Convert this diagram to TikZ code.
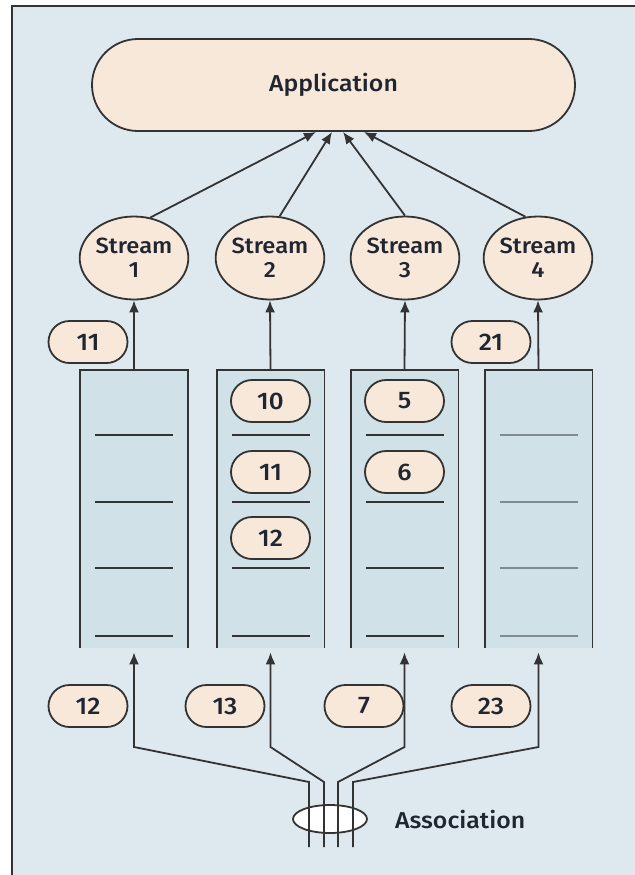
\documentclass[tikz,border=0pt]{standalone}
\usepackage{fontspec}
\setmainfont{Fira Sans}[UprightFont={* Medium}, FakeStretch=1.08]
\usetikzlibrary{shapes.geometric,arrows.meta}
\definecolor{bgblue}{HTML}{DDE9EE}
\definecolor{qblue}{HTML}{D0E2E8}
\definecolor{peach}{HTML}{F8E8DA}
\definecolor{linegray}{HTML}{333333}
\definecolor{slotgray}{HTML}{7F8B91}
\definecolor{txt}{HTML}{1F2531}
\begin{document}
\begin{tikzpicture}[x=0.5pt,y=-0.5pt]
	\tikzstyle{app} = [draw=linegray, line width=0.9pt, fill=peach, rounded corners=23pt, minimum width=241.5pt, minimum height=46pt, text=txt, font=\fontsize{11.5}{13}\selectfont]
	\tikzstyle{stream} = [draw=linegray, line width=0.9pt, fill=peach, ellipse, minimum width=47.5pt, minimum height=41.5pt, inner sep=0pt, align=center, text=txt, font=\fontsize{11}{12}\selectfont]
	\tikzstyle{pill} = [draw=linegray, line width=0.9pt, fill=peach, rounded corners=10.5pt, minimum width=39.5pt, minimum height=21pt, inner sep=0pt, text=txt, font=\fontsize{12}{14}\selectfont]
	\tikzstyle{queue} = [fill=qblue, minimum width=53.5pt, minimum height=139pt, inner sep=0pt]
	\tikzstyle{arr} = [-{Latex[length=6pt,width=5pt]}, draw=linegray, line width=0.9pt]
	\tikzstyle{wire} = [draw=linegray, line width=0.9pt]
	% background
	\useasboundingbox (0,0) rectangle (635,875);
	\fill[bgblue] (12,6) rectangle (635,875);
	\draw[linegray, line width=1.1pt] (12,875) -- (12,6) -- (635,6);
	% application and streams
	\node[app] (app) at (333.5,85) {Application};
	\node[stream] (s1) at (134,258) {Stream\\1};
	\node[stream] (s2) at (270,258) {Stream\\2};
	\node[stream] (s3) at (405,258) {Stream\\3};
	\node[stream] (s4) at (538,258) {Stream\\4};
	\draw[arr] (s1.68) -- ([xshift=-8.75pt]app.south);
	\draw[arr] (s2.77) -- ([xshift=-0.75pt]app.south);
	\draw[arr] (s3.90) -- ([xshift=4.75pt]app.south);
	\draw[arr] (s4.107) -- ([xshift=15.25pt]app.south);
	% queues
	\node[queue] (q1) at (134,509) {};
	\node[queue] (q2) at (270.5,509) {};
	\node[queue] (q3) at (404.5,509) {};
	\node[queue] (q4) at (538.5,509) {};
	\foreach \q in {q1,q2,q3,q4}
		\draw[wire] (\q.south west) -- (\q.north west) -- (\q.north east) -- (\q.south east);
	\foreach \cx in {134,270.5,404.5}
		\foreach \y in {435,502,568,636}
			\draw[wire] (\cx-39,\y) -- (\cx+39,\y);
	\foreach \y in {435,502,568,636}
		\draw[draw=slotgray, line width=0.9pt] (538.5-39,\y) -- (538.5+39,\y);
	\node[pill] (p10) at (270.5,401) {10};
	\node[pill] (p11) at (270.5,472) {11};
	\node[pill] (p12) at (270.5,538) {12};
	\node[pill] (p5) at (404.5,401) {5};
	\node[pill] (p6) at (404.5,472) {6};
	\foreach \i in {1,2,3,4}
		\draw[arr] (q\i.north) -- (s\i.south);
	\node[pill] (out11) at (88,342) {11};
	\node[pill] (out21) at (491,342) {21};
	% association
	\node[pill] (in12) at (88,706) {12};
	\node[pill] (in13) at (225,706) {13};
	\node[pill] (in7) at (364,706) {7};
	\node[pill] (in23) at (491,706) {23};
	\node[draw=linegray, fill=white, ellipse, line width=0.9pt, minimum width=37pt, minimum height=14pt] (assoc) at (330,819) {};
	\node[anchor=west, text=txt, font=\fontsize{11.5}{13}\selectfont] (assoclabel) at (388,819) {Association};
	\coordinate (e1) at (309,847); \coordinate (j1) at (309,782); \coordinate (k1) at (134,747);
	\coordinate (e2) at (324,847); \coordinate (j2) at (324,782); \coordinate (k2) at (270.5,747);
	\coordinate (e3) at (338,847); \coordinate (j3) at (338,782); \coordinate (k3) at (404.5,747);
	\coordinate (e4) at (353,847); \coordinate (j4) at (353,782); \coordinate (k4) at (538.5,747);
	\foreach \i in {1,2,3,4}
		\draw[arr] (e\i) -- (j\i) -- (k\i) -- ([yshift=-2pt]q\i.south);
\end{tikzpicture}
\end{document}
